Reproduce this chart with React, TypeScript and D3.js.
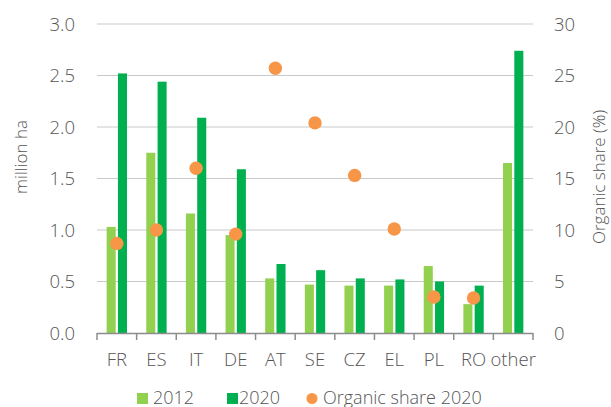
import * as d3 from "d3";
import { useEffect, useRef } from "react";

// values
const countries = ["FR", "ES", "IT", "DE", "AT", "SE", "CZ", "EL", "PL", "RO", "other"];
const area2012 = [1.03, 1.75, 1.16, 0.95, 0.53, 0.47, 0.46, 0.46, 0.65, 0.28, 1.65];
const area2020 = [2.52, 2.44, 2.09, 1.59, 0.67, 0.61, 0.53, 0.52, 0.50, 0.46, 2.74];
const share2020 = [8.7, 10.0, 16.0, 9.6, 25.7, 20.4, 15.3, 10.1, 3.5, 3.4, null];
const leftTicks = [0, 0.5, 1, 1.5, 2, 2.5, 3];
const rightTicks = [0, 5, 10, 15, 20, 25, 30];

const LIGHT = "#92d050";
const DARK = "#00b050";
const ORANGE = "#f79646";
const TEXT = "#555";
const FONT = "'Open Sans', sans-serif";

export default function App() {
  const svgRef = useRef<SVGSVGElement>(null);

  useEffect(() => {
    const width = 611;
    const height = 407;
    const svg = d3.select(svgRef.current);
    svg.attr("width", width).attr("height", height);
    svg.selectAll("*").remove();

    const left = 97, right = 533, top = 24, bottom = 333;

    const x = d3.scaleBand<string>().domain(countries).range([left, right]);
    const sub = d3.scaleBand<string>()
      .domain(["2012", "2020"])
      .range([0, x.bandwidth()])
      .paddingInner(0.2)
      .paddingOuter(0.854);
    const y = d3.scaleLinear().domain([0, 3]).range([bottom, top]);
    const y2 = d3.scaleLinear().domain([0, 30]).range([bottom, top]);

    // gridlines
    svg.append("g")
      .selectAll("line")
      .data(leftTicks.slice(1))
      .join("line")
      .attr("x1", left).attr("x2", right)
      .attr("y1", d => y(d)).attr("y2", d => y(d))
      .attr("stroke", "#c9c9c9")
      .attr("stroke-width", 1.2);

    // left labels
    svg.append("g")
      .selectAll("text")
      .data(leftTicks)
      .join("text")
      .attr("x", 75)
      .attr("y", d => y(d))
      .attr("dy", "0.36em")
      .attr("text-anchor", "end")
      .attr("font-family", FONT)
      .attr("font-weight", 300)
      .attr("font-size", 18.5)
      .attr("fill", TEXT)
      .text(d => d3.format(".1f")(d));

    // right labels
    svg.append("g")
      .selectAll("text")
      .data(rightTicks)
      .join("text")
      .attr("x", 554)
      .attr("y", d => y2(d))
      .attr("dy", "0.36em")
      .attr("font-family", FONT)
      .attr("font-weight", 300)
      .attr("font-size", 18.5)
      .attr("fill", TEXT)
      .text(d => d);

    // axis titles
    svg.append("text")
      .attr("transform", "translate(27,157) rotate(-90)")
      .attr("text-anchor", "middle")
      .attr("font-family", FONT)
      .attr("font-weight", 300)
      .attr("font-size", 17)
      .attr("fill", TEXT)
      .text("million ha");
    svg.append("text")
      .attr("transform", "translate(605,177) rotate(-90)")
      .attr("text-anchor", "middle")
      .attr("font-family", FONT)
      .attr("font-weight", 300)
      .attr("font-size", 17)
      .attr("fill", TEXT)
      .text("Organic share (%)");

    // bars
    const groups = svg.append("g")
      .selectAll("g")
      .data(countries)
      .join("g")
      .attr("transform", d => `translate(${x(d)},0)`);
    groups.append("rect")
      .attr("x", sub("2012")!)
      .attr("width", sub.bandwidth())
      .attr("y", (d, i) => y(area2012[i]))
      .attr("height", (d, i) => bottom - y(area2012[i]))
      .attr("fill", LIGHT);
    groups.append("rect")
      .attr("x", sub("2020")!)
      .attr("width", sub.bandwidth())
      .attr("y", (d, i) => y(area2020[i]))
      .attr("height", (d, i) => bottom - y(area2020[i]))
      .attr("fill", DARK);

    // x axis
    const edges = [...countries.map(c => x(c)!), right];
    svg.append("line")
      .attr("x1", left).attr("x2", right)
      .attr("y1", bottom + 0.5).attr("y2", bottom + 0.5)
      .attr("stroke", "#8c8c8c").attr("stroke-width", 1.5);
    svg.append("g")
      .selectAll("line")
      .data(edges)
      .join("line")
      .attr("x1", d => d).attr("x2", d => d)
      .attr("y1", bottom).attr("y2", bottom + 7)
      .attr("stroke", "#8c8c8c").attr("stroke-width", 1.5);
    svg.append("g")
      .selectAll("text")
      .data(countries)
      .join("text")
      .attr("x", d => x(d)! + x.bandwidth() / 2)
      .attr("y", 366)
      .attr("text-anchor", "middle")
      .attr("font-family", FONT)
      .attr("font-weight", 300)
      .attr("font-size", 18.5)
      .attr("fill", TEXT)
      .text(d => d);

    // organic share dots
    svg.append("g")
      .selectAll("circle")
      .data(countries.map((c, i) => ({ c, v: share2020[i] })).filter(d => d.v != null))
      .join("circle")
      .attr("cx", d => x(d.c)! + x.bandwidth() / 2)
      .attr("cy", d => y2(d.v as number))
      .attr("r", 6.7)
      .attr("fill", ORANGE);

    // legend
    const lg = svg.append("g").attr("font-family", FONT).attr("font-weight", 300)
      .attr("font-size", 18).attr("fill", TEXT);
    lg.append("rect").attr("x", 137).attr("y", 393).attr("width", 11).attr("height", 11).attr("fill", LIGHT);
    lg.append("text").attr("x", 153).attr("y", 404).text("2012");
    lg.append("rect").attr("x", 227).attr("y", 393).attr("width", 11).attr("height", 11).attr("fill", DARK);
    lg.append("text").attr("x", 239).attr("y", 404).text("2020");
    lg.append("circle").attr("cx", 312).attr("cy", 398.5).attr("r", 5.5).attr("fill", ORANGE);
    lg.append("text").attr("x", 323).attr("y", 404).text("Organic share 2020");
  }, []);

  return (
    <svg ref={svgRef} style={{ position: "absolute", left: 0, top: 0, background: "#fff" }} />
  );
}
